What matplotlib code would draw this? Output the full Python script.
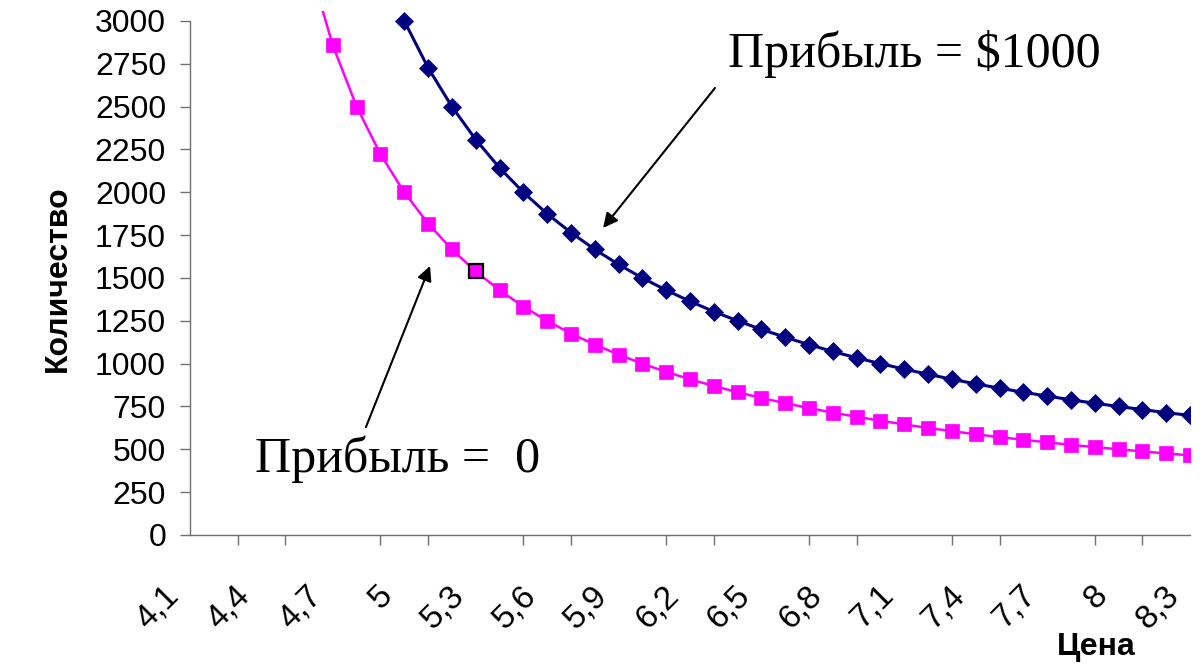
import numpy as np
import matplotlib
matplotlib.use("Agg")
import matplotlib.pyplot as plt
from matplotlib.ticker import FixedLocator, FuncFormatter
from matplotlib.transforms import ScaledTranslation

# Price categories (step 0.1)
price = [4.1, 4.2, 4.3, 4.4, 4.5, 4.6, 4.7, 4.8, 4.9, 5.0,
         5.1, 5.2, 5.3, 5.4, 5.5, 5.6, 5.7, 5.8, 5.9, 6.0,
         6.1, 6.2, 6.3, 6.4, 6.5, 6.6, 6.7, 6.8, 6.9, 7.0,
         7.1, 7.2, 7.3, 7.4, 7.5, 7.6, 7.7, 7.8, 7.9, 8.0,
         8.1, 8.2, 8.3]

# Quantity for profit = 0 (pink squares)
qty_zero = [None, None, None, None, None, 3333, 2857, 2500, 2222, 2000,
            1818, 1667, 1538, 1429, 1333, 1250, 1176, 1111, 1053, 1000,
            952, 909, 870, 833, 800, 769, 741, 714, 690, 667,
            645, 625, 606, 588, 571, 556, 541, 526, 513, 500,
            488, 476, 465]

# Quantity for profit = $1000 (navy diamonds)
qty_1000 = [None, None, None, None, None, None, None, None, None, 3000,
            2727, 2500, 2308, 2143, 2000, 1875, 1765, 1667, 1579, 1500,
            1429, 1364, 1304, 1250, 1200, 1154, 1111, 1071, 1034, 1000,
            968, 938, 909, 882, 857, 833, 811, 789, 769, 750,
            732, 714, 698]

highlight_idx = 12  # price 5.3 on the zero-profit curve

price = np.array(price, dtype=float)
qty_zero = np.array(qty_zero, dtype=float)
qty_1000 = np.array(qty_1000, dtype=float)

SANS = "Liberation Sans"
SERIF = "Liberation Serif"
PINK = "#FF00FF"
NAVY = "#000080"
AXIS_GRAY = "#707070"

fig = plt.figure(figsize=(12, 6.67), dpi=100)
ax = fig.add_axes([190 / 1200, 132 / 667, 1000 / 1200, (535 - 10.7) / 667])

ax.plot(price, qty_zero, color=PINK, lw=1.8, marker="s", ms=10.5,
        mfc=PINK, mec=PINK, mew=0.5, zorder=3)
ax.plot(price, qty_1000, color=NAVY, lw=2.2, marker="D", ms=9.5,
        mfc=NAVY, mec=NAVY, mew=0.5, zorder=3)
ax.plot(price[highlight_idx], qty_zero[highlight_idx], marker="s", ms=10,
        mfc=PINK, mec="black", mew=1.6, ls="none", zorder=4)

ax.set_xlim(4.1, 8.3)
ax.set_ylim(0, 3060)

# spines
for side in ["top", "right"]:
    ax.spines[side].set_visible(False)
for side in ["left", "bottom"]:
    ax.spines[side].set_color(AXIS_GRAY)
    ax.spines[side].set_linewidth(1.0)
ax.spines["left"].set_bounds(0, 3000)

# y ticks
ax.set_yticks(np.arange(0, 3001, 250))
ax.tick_params(axis="y", direction="out", length=7.2, width=1.0,
               color=AXIS_GRAY, pad=10, labelsize=23)
for lab in ax.get_yticklabels():
    lab.set_fontfamily(SANS)

# x ticks: labels every 3 categories, tick marks every 2 categories
ax.xaxis.set_major_locator(FixedLocator(price[::3]))
ax.xaxis.set_minor_locator(FixedLocator(price[::2]))
ax.xaxis.set_major_formatter(
    FuncFormatter(lambda v, pos: f"{round(v, 1):g}".replace(".", ",")))
ax.tick_params(axis="x", which="major", length=0, pad=40, labelsize=24)
ax.tick_params(axis="x", which="minor", direction="out", length=7.2,
               width=1.0, color=AXIS_GRAY)
shift = ScaledTranslation(-16 / 100, 0, fig.dpi_scale_trans)
for lab in ax.get_xticklabels():
    lab.set_fontfamily(SANS)
    lab.set_rotation(45)
    lab.set_ha("right")
    lab.set_va("center")
    lab.set_rotation_mode("anchor")
    lab.set_transform(lab.get_transform() + shift)

# axis titles
fig.text(58 / 1200, 1 - 279 / 667, "Количество", rotation=90, ha="center",
         va="center", fontsize=23, fontweight="bold", family=SANS)
fig.text(1096 / 1200, 1 - 647 / 667, "Цена", ha="center", va="center",
         fontsize=23, fontweight="bold", family=SANS)

# annotations
fig.text(728 / 1200, 1 - 67 / 667, "Прибыль = $1000", ha="left",
         va="baseline", fontsize=36, family=SERIF)
fig.text(255 / 1200, 1 - 472 / 667, "Прибыль =  0", ha="left",
         va="baseline", fontsize=36, family=SERIF)

arrow = dict(arrowstyle="-|>", color="black", lw=1.5, mutation_scale=22,
             shrinkA=0, shrinkB=0)
ax.annotate("", xy=(5.835, 1792), xytext=(6.305, 2609), arrowprops=arrow,
            annotation_clip=False)
ax.annotate("", xy=(5.108, 1570), xytext=(4.839, 630), arrowprops=arrow,
            annotation_clip=False)

fig.savefig("out.png", dpi=100, facecolor="white")
